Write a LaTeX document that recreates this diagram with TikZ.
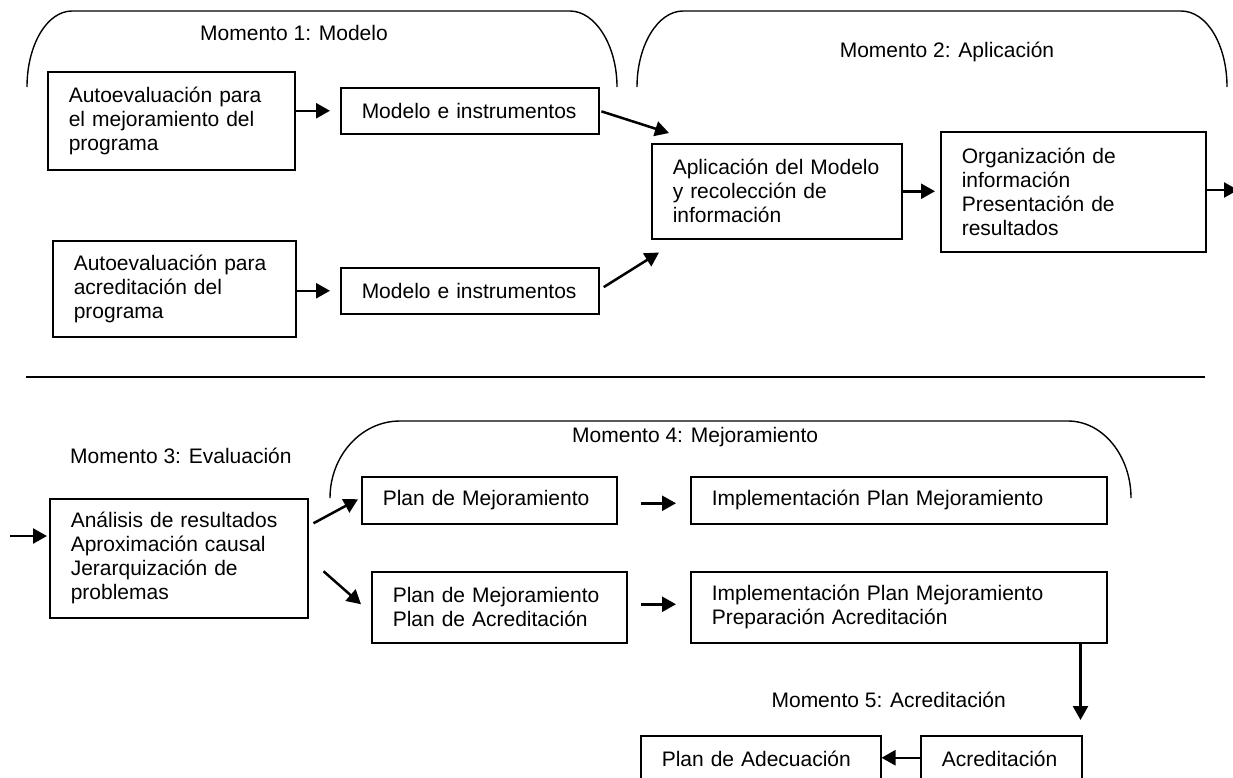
\documentclass[tikz,border=0pt]{standalone}
\usepackage{fontspec}
\setmainfont{Liberation Sans}
\usetikzlibrary{arrows.meta}

\newcommand\momtextstyle{\fontsize{21}{24}\selectfont}
\newcommand\cajaline{1.5pt}
\newcommand\caja[6]{
  \node[caja, text width=#4, minimum height=#5] (#1) at (#2, #3) {#6} ;
}

\tikzset{
  caja/.style={draw, line width=\cajaline, anchor=north west, align=left,
    inner xsep=21pt, inner ysep=0pt, font=\momtextstyle},
  flecha/.style={line width=2.5pt, -{Triangle[length=14pt, width=15pt]}},
  llave/.style={line width=1.4pt},
  momento/.style={font=\momtextstyle, inner sep=0pt},
}

\begin{document}
\begin{tikzpicture}[x=1pt, y=-1pt]
  \useasboundingbox (0,0) rectangle (1233,777);
  \clip (0,0) rectangle (1233,777);

  % momentos 1 y 2
  \draw[llave] (27,87) .. controls (27,45) and (47,11) .. (72,11) -- (570,11)
    .. controls (595,11) and (617,45) .. (617,87);
  \draw[llave] (637,87) .. controls (637,45) and (658,11) .. (683,11) -- (1181,11)
    .. controls (1207,11) and (1227,45) .. (1227,87);
  \node[momento] (m1) at (294,33) {Momento 1: Modelo};
  \node[momento] (m2) at (947,52) {Momento 2: Aplicación};

  \caja{A1}{47}{71}{205pt}{98pt}{Autoevaluación para\\el mejoramiento del\\programa}
  \caja{M1}{340}{87}{216pt}{46pt}{Modelo e instrumentos}
  \caja{A2}{52}{240}{201pt}{96pt}{Autoevaluación para\\acreditación del\\programa}
  \caja{M2}{340}{267}{216pt}{46pt}{Modelo e instrumentos}
  \caja{Aplic}{651}{143}{208pt}{95pt}{Aplicación del Modelo\\y recolección de\\información}
  \caja{Org}{940}{131}{223pt}{120pt}{Organización de\\información\\Presentación de\\resultados}
  \coordinate (salida) at (1238,190);

  \draw[flecha, shorten >=10pt] (A1.east |- M1.west) -- (M1.west);
  \draw[flecha, shorten >=10pt] (A2.east |- M2.west) -- (M2.west);
  \draw[flecha, shorten <=2pt] (M1.east) -- ([shift={(18,-10)}]Aplic.north west);
  \draw[flecha, shorten <=5pt] ([shift={(0,-1)}]M2.east) -- ([shift={(8,13)}]Aplic.south west);
  \draw[flecha, shorten >=5pt] (Aplic.east) -- (Org.west |- Aplic.east);
  \draw[flecha] (Org.east |- salida) -- (salida);

  \draw[line width=1.8pt] (26,377) -- (1205,377);

  % momentos 3, 4 y 5
  \draw[llave] (330,498) .. controls (330,456) and (361,421) .. (400,421) -- (1068,421)
    .. controls (1103,421) and (1131,456) .. (1131,498);
  \node[momento, anchor=west] (m3) at (70,456) {Momento 3: Evaluación};
  \node[momento, anchor=west] (m4) at (572,437) {Momento 4: Mejoramiento};
  \node[momento, anchor=east] (m5) at (1006,700) {Momento 5: Acreditación};

  \caja{Anal}{49}{498}{216pt}{119pt}{Análisis de resultados\\Aproximación causal\\Jerarquización de\\problemas}
  \caja{PlanM}{361}{476}{213pt}{47pt}{Plan de Mejoramiento}
  \caja{PlanMA}{371}{571}{213pt}{71pt}{Plan de Mejoramiento\\Plan de Acreditación}
  \caja{Impl1}{690}{476}{374pt}{47pt}{Implementación Plan Mejoramiento}
  \caja{Impl2}{690}{571}{374pt}{71pt}{Implementación Plan Mejoramiento\\Preparación Acreditación}
  \caja{PlanAd}{640}{735}{198pt}{47pt}{Plan de Adecuación}
  \caja{Acred}{920}{735}{119pt}{47pt}{Acreditación}
  \coordinate (entrada) at (10,536);
  \coordinate (bajada) at ([shift={(-2,0)}]Acred.north east);

  \draw[flecha, shorten >=2pt] (entrada) -- (entrada -| Anal.west);
  \draw[flecha] ([shift={(5,-35)}]Anal.east) -- ([shift={(-3,-1)}]PlanM.west);
  \draw[flecha] ([shift={(15,13)}]Anal.east) -- ([shift={(-10,-3)}]PlanMA.west);
  \draw[flecha, shorten <=23pt, shorten >=14pt] ([shift={(0,3)}]PlanM.east) -- ([shift={(0,3)}]Impl1.west);
  \draw[flecha, shorten <=13pt, shorten >=14pt] ([shift={(0,-3)}]PlanMA.east) -- ([shift={(0,-3)}]Impl2.west);
  \draw[flecha, shorten >=15pt] (bajada |- Impl2.south) -- (bajada);
  \draw[flecha] ([shift={(0,-1.5)}]Acred.west) -- ([shift={(0,-1.5)}]PlanAd.east);
\end{tikzpicture}
\end{document}
